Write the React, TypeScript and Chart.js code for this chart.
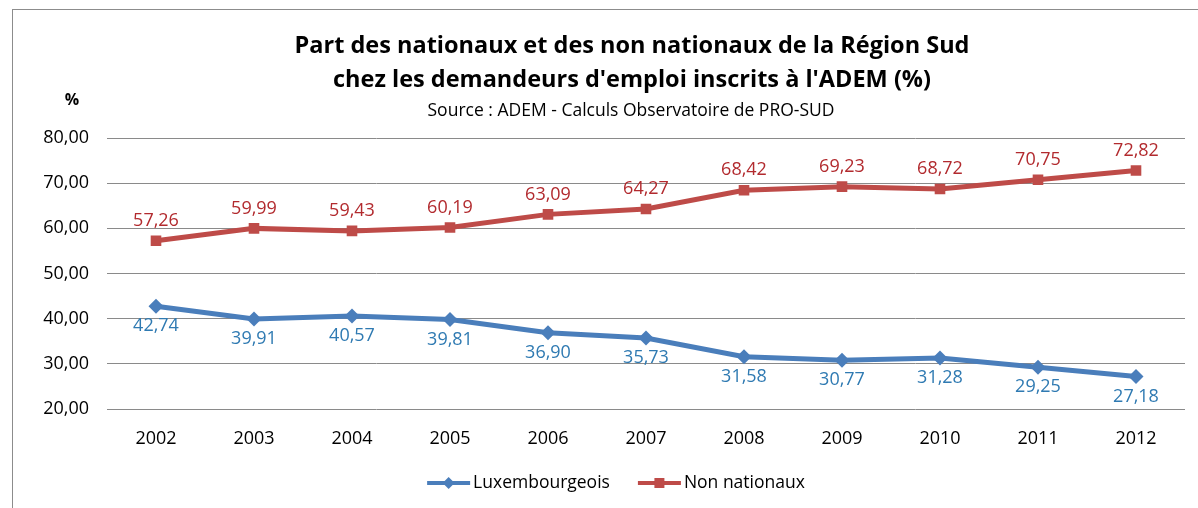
import React, { useEffect, useRef } from "react";
import { Chart, registerables } from "chart.js";

Chart.register(...registerables);

const years = ["2002", "2003", "2004", "2005", "2006", "2007", "2008", "2009", "2010", "2011", "2012"];
const luxembourgeois = [42.74, 39.91, 40.57, 39.81, 36.9, 35.73, 31.58, 30.77, 31.28, 29.25, 27.18];
const nonNationaux = [57.26, 59.99, 59.43, 60.19, 63.09, 64.27, 68.42, 69.23, 68.72, 70.75, 72.82];
const seriesNames = ["Luxembourgeois", "Non nationaux"];
const titleLines = [
  "Part des nationaux et des non nationaux de la Région Sud",
  "chez les demandeurs d'emploi inscrits à l'ADEM (%)",
];
const subtitleText = "Source : ADEM - Calculs Observatoire de PRO-SUD";
const yAxisUnit = "%";
const yMin = 20;
const yMax = 80;
const yStep = 10;

const FONT = "'Open Sans', 'DejaVu Sans', sans-serif";
const BLUE = "#4A7EBB";
const RED = "#BE4B48";
const BLUE_LABEL = "#2F7AB2";
const RED_LABEL = "#B22A2E";

const fmt = (v: number) => v.toFixed(2).replace(".", ",");

const decorPlugin = {
  id: "decor",
  beforeDraw(chart: any) {
    const ctx = chart.ctx;
    ctx.save();
    ctx.fillStyle = "#ffffff";
    ctx.fillRect(0, 0, chart.width, chart.height);
    ctx.strokeStyle = "#8c8c8c";
    ctx.lineWidth = 1;
    ctx.strokeRect(12.5, 9.5, chart.width + 20, chart.height + 20);
    ctx.restore();
  },
  afterDraw(chart: any) {
    const ctx = chart.ctx;
    ctx.save();
    ctx.textAlign = "center";
    ctx.textBaseline = "middle";
    ctx.fillStyle = "#000000";
    ctx.font = `bold 23.5px ${FONT}`;
    ctx.fillText(titleLines[0], 632, 46);
    ctx.fillText(titleLines[1], 632, 80);
    ctx.font = `17.5px ${FONT}`;
    ctx.fillText(subtitleText, 631, 111);
    ctx.font = `bold 16px ${FONT}`;
    ctx.fillText(yAxisUnit, 72, 100);

    // data labels
    ctx.font = `18px ${FONT}`;
    chart.data.datasets.forEach((ds: any, i: number) => {
      const meta = chart.getDatasetMeta(i);
      const above = i === 1;
      ctx.fillStyle = above ? RED_LABEL : BLUE_LABEL;
      meta.data.forEach((pt: any, j: number) => {
        const v = ds.data[j];
        ctx.fillText(fmt(v), pt.x, pt.y + (above ? -20 : 20));
      });
    });

    // legend
    const items = chart.data.datasets.map((ds: any) => ({
      label: ds.label,
      color: ds.borderColor,
      style: ds.pointStyle,
    }));
    ctx.font = `17.5px ${FONT}`;
    const lineLen = 43;
    const gap = 3;
    const itemGap = 28;
    const widths = items.map((it: any) => lineLen + gap + ctx.measureText(it.label).width);
    const total = widths.reduce((a: number, b: number) => a + b, 0) + itemGap * (items.length - 1);
    let x = 616 - total / 2;
    const y = 483;
    items.forEach((it: any, k: number) => {
      ctx.strokeStyle = it.color;
      ctx.lineWidth = 4;
      ctx.beginPath();
      ctx.moveTo(x, y);
      ctx.lineTo(x + lineLen, y);
      ctx.stroke();
      ctx.fillStyle = it.color;
      const cx = x + lineLen / 2;
      if (it.style === "rectRot") {
        ctx.beginPath();
        ctx.moveTo(cx, y - 6);
        ctx.lineTo(cx + 6, y);
        ctx.lineTo(cx, y + 6);
        ctx.lineTo(cx - 6, y);
        ctx.closePath();
        ctx.fill();
      } else {
        ctx.fillRect(cx - 5, y - 5, 10, 10);
      }
      ctx.fillStyle = "#000000";
      ctx.textAlign = "left";
      ctx.fillText(it.label, x + lineLen + gap, y);
      x += widths[k] + itemGap;
    });
    ctx.restore();
  },
};

export default function App() {
  const ref = useRef<HTMLCanvasElement | null>(null);
  useEffect(() => {
    if (!ref.current) return;
    const chart = new Chart(ref.current, {
      type: "line",
      data: {
        labels: years,
        datasets: [
          {
            label: seriesNames[0],
            data: luxembourgeois,
            borderColor: BLUE,
            backgroundColor: BLUE,
            borderWidth: 5,
            pointStyle: "rectRot",
            pointRadius: 7.5,
            pointBorderWidth: 0,
            tension: 0,
          },
          {
            label: seriesNames[1],
            data: nonNationaux,
            borderColor: RED,
            backgroundColor: RED,
            borderWidth: 5,
            pointStyle: "rect",
            pointRadius: 7.5,
            pointBorderWidth: 0,
            tension: 0,
          },
        ],
      },
      options: {
        responsive: false,
        animation: false,
        layout: { padding: { left: 12, right: 13, top: 138, bottom: 0 } },
        plugins: {
          legend: { display: false },
          title: { display: false },
          tooltip: { enabled: false },
        },
        scales: {
          x: {
            offset: true,
            grid: { display: false },
            border: { display: false },
            ticks: { color: "#000", font: { family: FONT, size: 18 }, padding: 11 },
            afterFit: (s: any) => {
              s.height = 99;
            },
          },
          y: {
            min: yMin,
            max: yMax,
            grid: { color: "#8a8a8a", lineWidth: 1, drawTicks: false },
            border: { display: false },
            ticks: {
              stepSize: yStep,
              color: "#000",
              padding: 18,
              font: { family: FONT, size: 18 },
              callback: (v: any) => fmt(Number(v)),
            },
            afterFit: (s: any) => {
              s.width = 95;
            },
          },
        },
      },
      plugins: [decorPlugin],
    });
    return () => chart.destroy();
  }, []);
  return (
    <div style={{ position: "absolute", left: 0, top: 0, width: 1198, height: 508 }}>
      <canvas ref={ref} width={1198} height={508} style={{ display: "block" }} />
    </div>
  );
}
